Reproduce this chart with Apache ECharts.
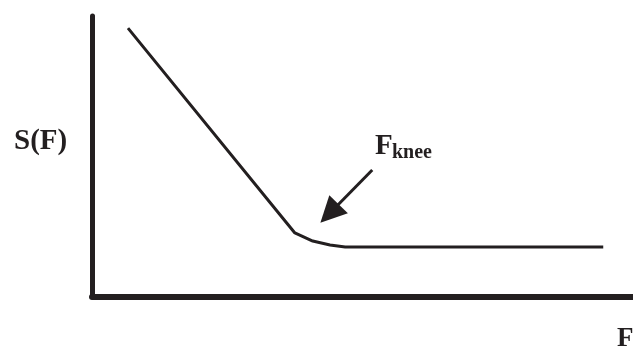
<!DOCTYPE html>
<html>
<head>
<meta charset="utf-8">
<script src="https://cdn.jsdelivr.net/npm/echarts@6/dist/echarts.min.js"></script>
<style>
  html, body { margin: 0; padding: 0; background: #fff; }
  #chart { width: 633px; height: 352px; }
</style>
</head>
<body>
<div id="chart"></div>
<script>
// S(F) curve, in axis units (F: 0..10, S: 0..10)
const curveF = [0.665, 3.75, 4.08, 4.40, 4.68, 9.45];
const curveS = [9.57, 2.28, 1.99, 1.85, 1.78, 1.78];
// arrow pointing at the knee (tail -> head centre)
const arrowF = [5.18, 4.39];
const arrowS = [4.52, 2.97];

const ink = '#231f20';
const serif = '"Liberation Serif", "DejaVu Serif", serif';

const chart = echarts.init(document.getElementById('chart'));

const option = {
    animation: false,
    grid: { left: 92, right: 0, top: 16, bottom: 55 },
    xAxis: {
        type: 'value',
        min: 0,
        max: 10,
        axisLine: { show: true, lineStyle: { color: ink, width: 6 } },
        axisTick: { show: false },
        axisLabel: { show: false },
        splitLine: { show: false }
    },
    yAxis: {
        type: 'value',
        min: 0,
        max: 10,
        axisLine: { show: true, lineStyle: { color: ink, width: 5, cap: 'round' } },
        axisTick: { show: false },
        axisLabel: { show: false },
        splitLine: { show: false }
    },
    series: [
        {
            type: 'line',
            data: curveF.map((f, i) => [f, curveS[i]]),
            symbol: 'none',
            lineStyle: { color: ink, width: 3 },
            markLine: {
                silent: true,
                symbol: ['none', 'triangle'],
                symbolSize: [26, 26],
                lineStyle: { color: ink, width: 3, type: 'solid' },
                label: { show: false },
                data: [[
                    { coord: [arrowF[0], arrowS[0]] },
                    { coord: [arrowF[1], arrowS[1]] }
                ]]
            }
        }
    ],
    graphic: [
        {
            type: 'text', left: 14, top: 127,
            style: { text: 'S(F)', font: 'bold 29px ' + serif, fill: ink, textVerticalAlign: 'middle' }
        },
        {
            type: 'text', x: 375, y: 147,
            style: { text: 'F', font: 'bold 29px ' + serif, fill: ink, textVerticalAlign: 'middle' }
        },
        {
            type: 'text', x: 392, y: 163,
            style: { text: 'knee', font: 'bold 20px ' + serif, fill: ink, textVerticalAlign: 'bottom' }
        },
        {
            type: 'text', x: 617, y: 339,
            style: { text: 'F', font: 'bold 27px ' + serif, fill: ink, textVerticalAlign: 'middle' }
        }
    ]
};

chart.setOption(option);
</script>
</body>
</html>
